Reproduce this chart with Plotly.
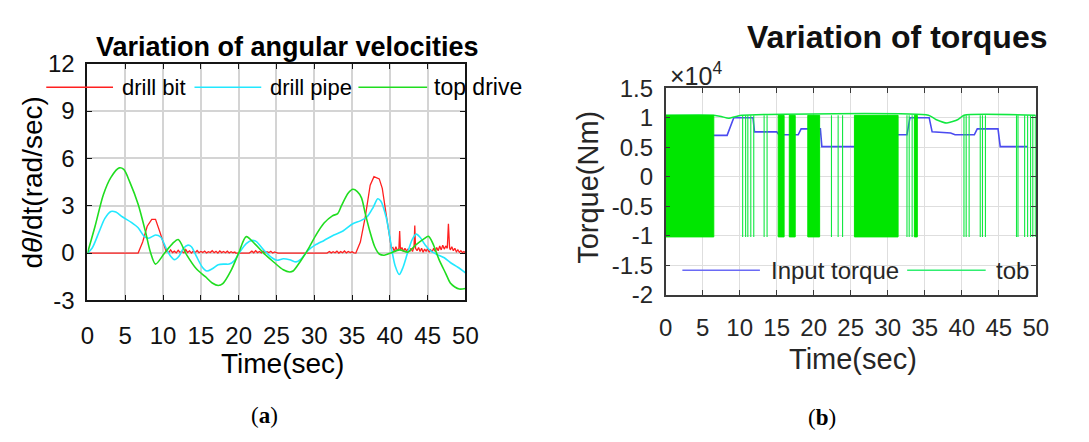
import plotly.graph_objects as go

W, H = 1089, 442

# ---------------- data: (a) angular velocities ----------------
top_drive_t = [0, 1.0, 2.1, 3.1, 4.2, 4.8, 5.6, 6.7, 7.7, 8.3, 9.0, 10.2, 11.25, 12.0, 13.1, 14.4, 15.6, 16.5, 17.3, 17.9, 19.0, 20.0, 21.0, 22.1, 23.3, 24.7, 25.9, 26.75, 27.2, 28.2, 29.25, 30.3, 31.3, 32.4, 33.1, 33.6, 34.5, 35.1, 35.7, 36.25, 36.75, 37.4, 38.0, 38.6, 39.25, 40.1, 41.3, 42.4, 43.4, 44.5, 45.1, 45.7, 46.5, 47.4, 48.0, 48.6, 49.2, 50.0]
top_drive_v = [0, 1.7, 3.7, 4.8, 5.4, 5.3, 4.5, 3.1, 1.3, 0.1, -0.7, 0.0, 0.6, 0.86, -0.1, -1.0, -1.5, -1.9, -2.06, -1.94, -1.1, 0.0, 1.04, 0.6, 0.0, -0.6, -1.06, -1.2, -1.14, -0.5, 0.3, 1.2, 1.9, 2.36, 2.5, 3.0, 3.8, 4.04, 3.9, 3.5, 2.5, 1.3, 0.4, -0.06, -0.14, 0.0, 0.2, 0.06, 0.5, 0.9, 1.06, 0.6, -0.4, -1.3, -1.9, -2.15, -2.28, -2.25]

drill_pipe_t = [0, 0.6, 1.5, 2.3, 3.1, 3.75, 4.6, 5.8, 6.7, 7.5, 8.1, 9.0, 9.7, 10.4, 11.0, 11.5, 12.1, 12.7, 13.3, 13.75, 14.4, 15.2, 15.8, 16.5, 17.3, 18.1, 18.75, 19.4, 20.2, 21.0, 21.7, 22.3, 23.3, 24.4, 25.1, 25.9, 26.75, 27.6, 28.2, 29.25, 30.1, 31.3, 32.6, 33.8, 35.1, 36.1, 37.0, 37.8, 38.4, 38.8, 39.5, 39.9, 40.3, 40.7, 41.25, 41.75, 42.4, 43.0, 43.5, 44.0, 44.7, 45.5, 46.3, 47.2, 48.0, 49.0, 50.0]
drill_pipe_v = [0, 0.3, 1.3, 2.2, 2.64, 2.6, 2.3, 1.94, 1.6, 1.06, 0.94, 1.14, 1.0, 0.3, -0.2, -0.42, -0.2, 0.3, 0.5, 0.4, -0.2, -0.9, -1.14, -1.0, -0.74, -0.7, -0.7, -0.5, 0.1, 0.6, 0.8, 0.74, 0.2, -0.3, -0.46, -0.36, -0.42, -0.56, -0.4, 0.2, 0.5, 0.8, 1.14, 1.4, 1.86, 2.04, 2.3, 2.9, 3.44, 3.3, 2.3, 1.3, 0.1, -0.8, -1.36, -0.9, 0.1, 0.9, 1.2, 1.0, 0.5, 0.1, -0.1, -0.3, -0.6, -0.9, -1.25]

drill_bit_t = [0, 6.7, 7.3, 7.9, 8.5, 9.0, 9.6, 10.1, 10.4,
               10.5, 10.75, 11.0, 11.25, 11.5, 11.75, 12.0, 12.25, 12.5, 12.75, 13.0, 13.25, 13.5, 13.75, 14.0, 14.25, 14.5, 14.75, 15.0, 15.25, 15.5, 15.75, 16.0, 16.25, 16.5, 16.75, 17.0, 17.25, 17.5, 17.75, 18.0, 18.25, 18.5, 18.75, 19.0, 19.25, 19.5,
               19.6, 21.4,
               21.5, 21.75, 22.0, 22.25, 22.5, 22.75, 23.0, 23.25, 23.5, 23.75, 24.0, 24.25, 24.5, 24.75, 25.0,
               25.2, 31.7,
               31.8, 32.0, 32.25, 32.5, 32.75, 33.0, 33.25, 33.5, 33.75, 34.0, 34.25, 34.5, 34.75, 35.0, 35.25,
               35.5, 36.1, 36.75, 37.4, 37.9, 38.6, 39.0, 39.5, 39.9, 40.2,
               40.4, 40.6, 40.8, 41.0, 41.2, 41.3, 41.4, 41.6, 41.8, 42.0, 42.2, 42.4, 42.6, 42.8, 43.0, 43.2, 43.3, 43.4, 43.6, 43.8, 44.0, 44.2, 44.4, 44.6, 44.8, 45.0, 45.2, 45.4, 45.6, 45.8, 46.0, 46.2, 46.4, 46.6, 46.8, 47.0, 47.2, 47.4, 47.6, 47.75, 47.9, 48.0, 48.2, 48.4, 48.6, 48.8, 49.0, 49.2, 49.4, 49.6, 49.8, 50.0]
drill_bit_v = [0, 0, 0.7, 1.7, 2.14, 2.14, 1.3, 0.5, 0.1,
               0.15, 0.02, 0.2, 0.03, 0.12, 0.01, 0.18, 0.04, 0.1, 0.02, 0.22, 0.03, 0.14, 0.0, 0.12, 0.03, 0.16, 0.02, 0.1, 0.04, 0.13, 0.01, 0.09, 0.03, 0.15, 0.02, 0.11, 0.0, 0.14, 0.03, 0.1, 0.02, 0.12, 0.01, 0.08, 0.02, 0.06,
               0, 0,
               0.05, 0.12, 0.02, 0.15, 0.03, 0.1, 0.01, 0.13, 0.02, 0.09, 0.03, 0.11, 0.0, 0.07, 0.02,
               0, 0,
               0.03, 0.1, 0.01, 0.08, 0.02, 0.12, 0.0, 0.09, 0.02, 0.13, 0.01, 0.1, 0.03, 0.08, 0.01,
               0, 0.7, 2.3, 4.3, 4.84, 4.7, 4.1, 2.5, 1.1, 0.3,
               0.35, 0.1, 0.4, 0.15, 0.3, 1.4, 0.2, 0.35, 0.1, 0.3, 0.12, 0.25, 0.08, 0.3, 0.1, 0.4, 1.74, 0.3, 0.15, 0.35, 0.1, 0.3, 0.05, 0.25, 0.1, 0.3, 0.05, 0.2, 0.08, 0.3, 0.1, 0.35, 0.15, 0.45, 0.2, 0.5, 0.25, 0.45, 0.3, 1.85, 0.35, 0.2, 0.4, 0.15, 0.3, 0.08, 0.2, 0.05, 0.15, 0.03, 0.1, 0.02]

x_ticks = [0, 5, 10, 15, 20, 25, 30, 35, 40, 45, 50]
a_y_ticks = [-3, 0, 3, 6, 9, 12]
a_y_labels = ["-3", "0", "3", "6", "9", "12"]

# ---------------- data: (b) torques (x 10^4 Nm) ----------------
input_torque_t = [0, 8.3, 9.2, 11.8, 12.0, 15.0, 15.3, 17.9, 18.3, 20.9, 21.1, 28.0, 28.2, 32.6, 33.0, 35.6, 36.0, 38.5, 39.1, 41.7, 42.1, 44.9, 45.2, 48.9]
input_torque_v = [0.7, 0.7, 1.0, 1.0, 0.76, 0.76, 0.71, 0.71, 0.81, 0.81, 0.51, 0.51, 0.71, 0.71, 1.0, 1.0, 0.76, 0.74, 0.71, 0.71, 0.81, 0.81, 0.51, 0.51]

tob_top_t = [0, 6.5, 7.5, 8.5, 9.5, 10.3, 35.5, 36.5, 38.0, 39.5, 40.3, 50]
tob_top_v = [1.04, 1.04, 1.02, 0.99, 1.02, 1.04, 1.04, 0.97, 0.91, 0.97, 1.04, 1.04]
tob_low = -1.02
tob_high = 1.04
tob_chatter_start = [0.0, 15.2, 16.7, 19.2, 25.5, 33.6]
tob_chatter_end = [6.5, 16.0, 17.5, 20.8, 31.4, 34.0]
tob_switch_t = [10.4, 10.8, 11.1, 11.5, 11.9, 13.3, 13.7, 22.4, 23.3, 23.9, 32.6, 32.9, 33.3, 40.3, 40.6, 41.0, 42.5, 42.8, 43.2, 47.4, 47.6, 48.5, 48.9, 49.3, 49.6, 49.95]

b_y_ticks = [-2, -1.5, -1, -0.5, 0, 0.5, 1, 1.5]
b_y_labels = ["-2", "-1.5", "-1", "-0.5", "0", "0.5", "1", "1.5"]

# ---------------- styles ----------------
RED = "#ff2020"
CYAN = "#22e8ff"
GREEN_A = "#20dd20"
BLUE = "#4b4bf0"
GREEN_B = "#10e840"
FONT = "Liberation Sans"

fig = go.Figure()

# (a)
fig.add_trace(go.Scatter(x=drill_bit_t, y=drill_bit_v, mode="lines", line=dict(color=RED, width=1.3),
                         name="drill bit", xaxis="x", yaxis="y", showlegend=False))
fig.add_trace(go.Scatter(x=drill_pipe_t, y=drill_pipe_v, mode="lines", line=dict(color=CYAN, width=1.6, shape="spline", smoothing=0.8),
                         name="drill pipe", xaxis="x", yaxis="y", showlegend=False))
fig.add_trace(go.Scatter(x=top_drive_t, y=top_drive_v, mode="lines", line=dict(color=GREEN_A, width=1.6, shape="spline", smoothing=0.8),
                         name="top drive", xaxis="x", yaxis="y", showlegend=False))

# (b)
fig.add_trace(go.Scatter(x=input_torque_t, y=input_torque_v, mode="lines", line=dict(color=BLUE, width=1.6),
                         name="Input torque", xaxis="x2", yaxis="y2", showlegend=False))
fig.add_trace(go.Scatter(x=tob_top_t, y=tob_top_v, mode="lines", line=dict(color=GREEN_B, width=1.5, shape="spline", smoothing=0.6),
                         name="tob", xaxis="x2", yaxis="y2", showlegend=False))
sx, sy = [], []
for ts in tob_switch_t:
    sx += [ts, ts, None]
    sy += [tob_high, tob_low, None]
fig.add_trace(go.Scatter(x=sx, y=sy, mode="lines", line=dict(color=GREEN_B, width=1.1),
                         xaxis="x2", yaxis="y2", showlegend=False, hoverinfo="skip"))
for a, b in zip(tob_chatter_start, tob_chatter_end):
    fig.add_trace(go.Scatter(x=[a, b, b, a, a], y=[tob_low, tob_low, tob_high, tob_high, tob_low],
                             mode="lines", fill="toself", fillcolor="#00e600",
                             line=dict(color="#00e600", width=1), xaxis="x2", yaxis="y2",
                             showlegend=False, hoverinfo="skip"))

def px_x(p):
    return p / W

def px_y(p):
    return 1 - p / H

# plot boxes (pixels)
aL, aR, aT, aB = 82, 467, 53, 305
bL, bR, bT, bB = 671, 1048, 79, 299

axis_common = dict(showline=True, mirror="allticks", ticks="inside", ticklen=5, zeroline=False,
                   showgrid=True)

fig.update_layout(
    width=W, height=H, margin=dict(l=0, r=0, t=0, b=0),
    paper_bgcolor="white", plot_bgcolor="white", showlegend=False,
    xaxis=dict(domain=[px_x(aL), px_x(aR)], range=[0, 50], tickvals=x_ticks, anchor="y",
               linecolor="#151515", linewidth=2, gridcolor="#d4d4d4", gridwidth=2, tickcolor="#151515",
               tickfont=dict(family=FONT, size=24, color="#111"), ticklabelstandoff=13, **axis_common),
    yaxis=dict(domain=[px_y(aB), px_y(aT)], range=[-3, 12], tickvals=a_y_ticks, ticktext=a_y_labels, anchor="x",
               linecolor="#151515", linewidth=2, gridcolor="#d4d4d4", gridwidth=2, tickcolor="#151515",
               tickfont=dict(family=FONT, size=24, color="#111"), ticklabelstandoff=6, **axis_common),
    xaxis2=dict(domain=[px_x(bL), px_x(bR)], range=[0, 50], tickvals=x_ticks, anchor="y2",
                linecolor="#3a3a3a", linewidth=1.6, gridcolor="#dedede", gridwidth=1, tickcolor="#3a3a3a",
                tickfont=dict(family=FONT, size=24, color="#262626"), ticklabelstandoff=11, **axis_common),
    yaxis2=dict(domain=[px_y(bB), px_y(bT)], range=[-2, 1.5], tickvals=b_y_ticks, ticktext=b_y_labels, anchor="x2",
                linecolor="#3a3a3a", linewidth=1.6, gridcolor="#dedede", gridwidth=1, tickcolor="#3a3a3a",
                tickfont=dict(family=FONT, size=24, color="#262626"), ticklabelstandoff=6, **axis_common),
)

shapes = []
annotations = []

def text(x, y, s, size, color="#000", xanchor="center", yanchor="middle", angle=0, family=FONT):
    annotations.append(dict(x=px_x(x), y=px_y(y), xref="paper", yref="paper", text=s, showarrow=False,
                            xanchor=xanchor, yanchor=yanchor, textangle=angle,
                            font=dict(family=family, size=size, color=color)))

def legend_line(x0, x1, y, color, width):
    shapes.append(dict(type="line", xref="paper", yref="paper", x0=px_x(x0), x1=px_x(x1),
                       y0=px_y(y), y1=px_y(y), line=dict(color=color, width=width)))

# (a) texts
text(286, 35, "<b>Variation of angular velocities</b>", 27)
text(281, 372, "Time(sec)", 28)
text(25, 180, "d<i>θ</i>/dt(rad/sec)", 28, angle=-90)
legend_line(40, 108, 78, RED, 1.5)
text(115, 78, "drill bit", 22, xanchor="left")
legend_line(191, 259, 78, CYAN, 1.5)
text(266, 78, "drill pipe", 22, xanchor="left")
legend_line(358, 428, 78, GREEN_A, 1.5)
text(433, 78, "top drive", 23, xanchor="left")
text(262, 428, "(<b>a</b>)", 23, family="Liberation Serif")

# (b) texts
text(907, 25, "<b>Variation of torques</b>", 32, color="#111")
text(862, 367, "Time(sec)", 29, color="#262626")
text(592, 185, "Torque(Nm)", 29, color="#262626", angle=-90)
text(673, 64, "×10<sup>4</sup>", 25, color="#262626", xanchor="left")
legend_line(688, 767, 273, "#6a6af5", 1.6)
text(776, 273, "Input torque", 24, color="#262626", xanchor="left")
legend_line(917, 997, 273, "#30ee70", 1.6)
text(1005, 273, "tob", 24, color="#262626", xanchor="left")
text(830, 430, "(<b>b</b>)", 23, family="Liberation Serif")

fig.update_layout(shapes=shapes, annotations=annotations)

fig.write_html("out.html")
